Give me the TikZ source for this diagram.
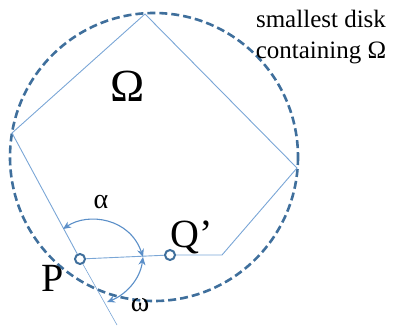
\documentclass[tikz,border=0pt]{standalone}
\usepackage{fontspec}
\setmainfont{Liberation Serif}
\usetikzlibrary{arrows.meta}
\definecolor{diskc}{HTML}{3F6F9C}
\definecolor{polyc}{HTML}{7AA6D6}
\definecolor{arcc}{HTML}{5B8FC8}
\begin{document}
\begin{tikzpicture}[x=1pt,y=-1pt,
  poly/.style={draw=polyc,line width=0.9pt},
  disk/.style={draw=diskc,line width=2.6pt,dash pattern=on 8pt off 4pt},
  pt/.style={circle,draw=diskc,fill=white,line width=2pt,inner sep=0pt,minimum size=10pt},
  angarc/.style={draw=arcc,line width=1.1pt,{Stealth[length=8pt,width=7pt]}-{Stealth[length=8pt,width=7pt]}},
  lbl/.style={inner sep=0pt}]
\useasboundingbox (0,0) rectangle (393,326);
\coordinate (C) at (154,157);
\coordinate (T) at (145,14);
\coordinate (L) at (12,133);
\coordinate (R) at (297,168);
\coordinate (B) at (222,255);
\coordinate (E) at (117,325);
\draw[disk] (C) circle[radius=144];
\node[pt] (P) at (80,259) {};
\node[pt] (Q) at (170,255) {};
\draw[poly] (P) -- (L) -- (T) -- (R) -- (B) -- (Q) -- (P);
\draw[draw=polyc,line width=0.6pt] (P) -- (E);
\coordinate (a1) at (63,229);
\coordinate (a2) at (143,257);
\coordinate (w2) at (107,302);
\draw[angarc] (a1) .. controls (88,212) and (130,218) .. (a2);
\draw[angarc] (a2) .. controls (140,280) and (125,295) .. (w2);
\node[lbl,font=\fontsize{28}{28}\selectfont] (alpha) at (101,202) {α};
\node[lbl,font=\fontsize{28}{28}\selectfont] (omega) at (140,305) {ω};
\node[lbl,font=\fontsize{40}{40}\selectfont] (Pl) at (53,278) {P};
\node[lbl,font=\fontsize{40}{40}\selectfont] (Ql) at (192,237) {Q’};
\node[lbl,font=\fontsize{46}{46}\selectfont] (Om) at (128,86) {Ω};
\node[lbl,align=center,font=\fontsize{25}{31}\selectfont] (txt) at (321,37) {smallest disk\\ containing Ω};
\end{tikzpicture}
\end{document}
